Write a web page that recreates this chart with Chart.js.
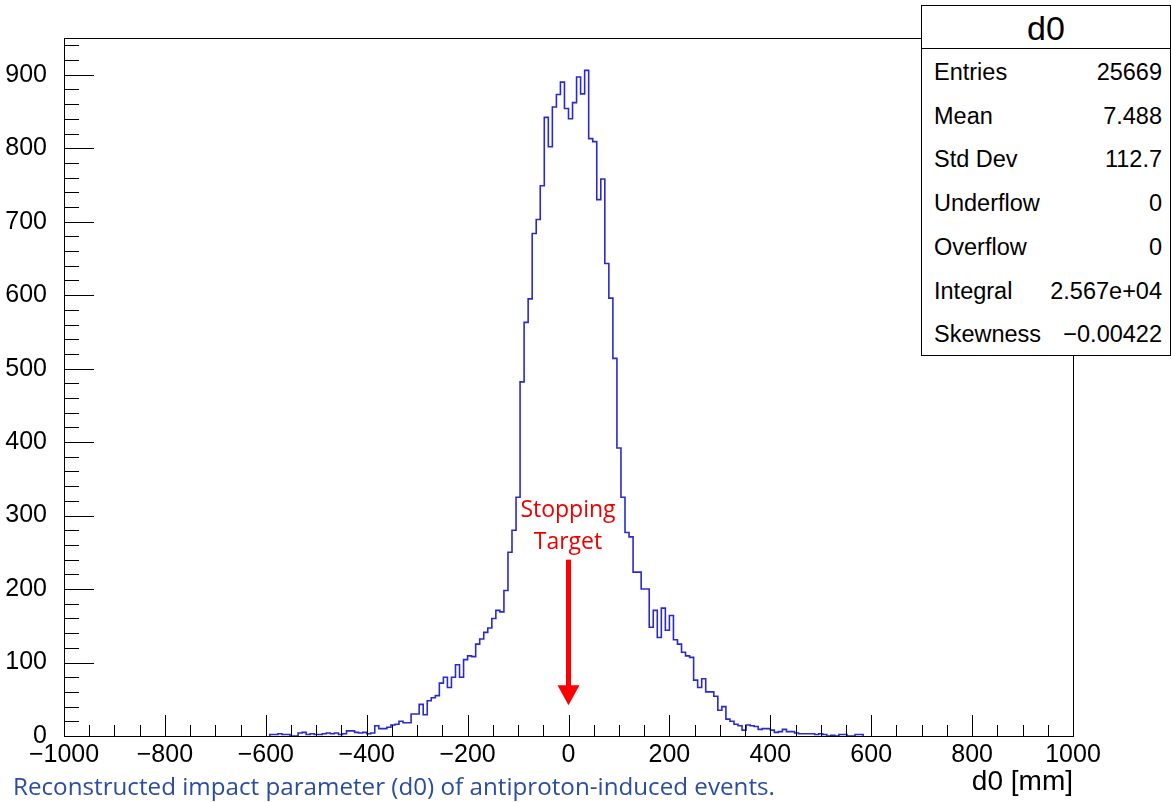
<!DOCTYPE html>
<html>
<head>
<meta charset="utf-8">
<script src="https://cdn.jsdelivr.net/npm/chart.js@4.4.1/dist/chart.umd.min.js"></script>
<style>
  body { margin: 0; background: #fff; }
  #wrap { position: relative; width: 1171px; height: 802px; overflow: hidden; }
  #wrap canvas { position: absolute; left: 0; top: 0; }
  .stats {
    position: absolute; left: 921px; top: 5px; width: 248px; height: 349px;
    border: 1px solid #000; background: #fff;
    font-family: "Liberation Sans", Arial, sans-serif; color: #000;
  }
  .stats .title {
    height: 42px; border-bottom: 1px solid #000;
    font-size: 34px; line-height: 44px; text-align: center;
  }
  .stats .row {
    position: absolute; left: 12px; right: 8px; height: 30px;
    font-size: 23.5px; line-height: 30px;
  }
  .stats .row span:last-child { position: absolute; right: 0; }
  .xtitle {
    position: absolute; right: 98px; top: 765px;
    font-family: "Liberation Sans", Arial, sans-serif; font-size: 28px; color: #000;
  }
  .caption {
    position: absolute; left: 13px; top: 769px; white-space: nowrap;
    font-family: "Open Sans", Lato, sans-serif; font-size: 24.2px; color: #2b4c9f;
  }
  .note {
    position: absolute; left: 468px; top: 492px; width: 200px;
    text-align: center; font-family: "Open Sans", Lato, sans-serif;
    font-size: 23px; line-height: 32px; color: #ee0000;
  }
</style>
</head>
<body>
<div id="wrap">
  <canvas id="histChart" width="1171" height="802"></canvas>
  <div class="stats" id="statsBox"><div class="title">d0</div></div>
  <div class="xtitle">d0 [mm]</div>
  <div class="note">Stopping<br>Target</div>
  <div class="caption">Reconstructed impact parameter (d0) of antiproton-induced events.</div>
</div>
<script>
// 히스토그램 구간 (8 mm 폭, -1000 ~ 1000)
const xMin = -1000;
const xMax = 1000;
const binWidth = 8;
const firstEdge = -592;   // 첫 번째 채워진 구간의 왼쪽 경계

// 구간별 개수 (-592 mm 부터 8 mm 씩)
const counts = [
    2, 2, 3, 2, 2, 0, 0, 4, 5, 2,
    3, 2, 2, 3, 4, 3, 4, 2, 3, 7,
    7, 5, 4, 5, 3, 4, 14, 10, 10, 12,
    15, 16, 20, 18, 18, 30, 30, 43, 29, 48,
    52, 55, 72, 80, 66, 80, 97, 80, 104, 109,
    108, 125, 132, 141, 147, 160, 171, 169, 198, 250,
    280, 325, 482, 563, 595, 684, 703, 749, 842, 802,
    856, 873, 890, 854, 840, 862, 897, 874, 906, 813,
    809, 730, 758, 643, 596, 514, 392, 325, 277, 271,
    223, 223, 200, 200, 148, 171, 134, 174, 144, 164,
    131, 125, 114, 109, 107, 76, 66, 78, 60, 60,
    54, 35, 40, 23, 20, 16, 14, 8, 15, 14,
    13, 9, 10, 10, 8, 5, 6, 9, 6, 6,
    4, 3, 3, 3, 3, 2, 3, 2, 0, 1,
    0, 2, 2, 0, 0, 2, 2
];

// 축 눈금
const xTicks = [-1000, -800, -600, -400, -200, 0, 200, 400, 600, 800, 1000];
const yTicks = [0, 100, 200, 300, 400, 500, 600, 700, 800, 900];
const yMax = 950;

// 통계 박스
const statLabels = ['Entries', 'Mean', 'Std Dev', 'Underflow', 'Overflow', 'Integral', 'Skewness'];
const statValues = ['25669', '7.488', '112.7', '0', '0', '2.567e+04', '\u22120.00422'];

// 화살표 (Stopping Target, x = 0)
const arrowX = 0;
const arrowFrom = 240;
const arrowTo = 42;

const statsBox = document.getElementById('statsBox');
statLabels.forEach((lab, i) => {
    const row = document.createElement('div');
    row.className = 'row';
    row.style.top = (51 + i * 43.7) + 'px';
    row.innerHTML = `<span>${lab}</span><span>${statValues[i]}</span>`;
    statsBox.appendChild(row);
});

// 계단선 포인트: 각 구간 왼쪽 경계에 값 (stepped 'before' → 다음 점까지 유지)
const points = [{ x: firstEdge, y: 0 }];
counts.forEach((c, k) => points.push({ x: firstEdge + k * binWidth, y: c }));
points.push({ x: firstEdge + counts.length * binWidth, y: 0 });

const minus = v => (v < 0 ? '\u2212' + Math.abs(v) : String(v));

// ROOT 스타일 프레임 + 안쪽 눈금 + 화살표
const rootFrame = {
    id: 'rootFrame',
    afterDatasetsDraw(chart) {
        const { ctx, chartArea: a, scales: { x, y } } = chart;
        ctx.save();
        ctx.strokeStyle = '#000';
        ctx.lineWidth = 1;
        ctx.strokeRect(Math.round(a.left) + 0.5, Math.round(a.top) + 0.5,
            Math.round(a.right - a.left), Math.round(a.bottom - a.top));
        ctx.beginPath();
        for (let v = xMin; v <= xMax; v += 50) {
            const px = Math.round(x.getPixelForValue(v)) + 0.5;
            const len = v % 200 === 0 ? 21 : 11;
            ctx.moveTo(px, a.bottom);
            ctx.lineTo(px, a.bottom - len);
        }
        for (let v = 0; v <= yMax; v += 20) {
            const py = Math.round(y.getPixelForValue(v)) + 0.5;
            const len = v % 100 === 0 ? 30 : 15;
            ctx.moveTo(a.left, py);
            ctx.lineTo(a.left + len, py);
        }
        ctx.stroke();

        // 빨간 화살표
        const ax = x.getPixelForValue(arrowX);
        const y0 = y.getPixelForValue(arrowFrom);
        const y1 = y.getPixelForValue(arrowTo);
        ctx.fillStyle = '#ff0000';
        ctx.fillRect(ax - 2.5, y0, 5, (y1 - y0) - 18);
        ctx.beginPath();
        ctx.moveTo(ax - 11, y1 - 20);
        ctx.lineTo(ax + 11, y1 - 20);
        ctx.lineTo(ax, y1);
        ctx.closePath();
        ctx.fill();
        ctx.restore();
    }
};

const tickFont = { family: '"Liberation Sans", Arial, sans-serif', size: 25 };

new Chart(document.getElementById('histChart'), {
    type: 'line',
    data: {
        datasets: [{
            data: points,
            stepped: 'before',
            borderColor: '#2a2acc',
            borderWidth: 1.6,
            pointRadius: 0,
            fill: false
        }]
    },
    options: {
        responsive: false,
        animation: false,
        layout: { padding: { left: 0, top: 38, right: 98, bottom: 0 } },
        plugins: { legend: { display: false }, tooltip: { enabled: false } },
        scales: {
            x: {
                type: 'linear',
                min: xMin,
                max: xMax,
                grid: { display: false },
                border: { display: false },
                afterBuildTicks: s => { s.ticks = xTicks.map(v => ({ value: v })); },
                afterFit: s => { s.height = 66; },
                ticks: {
                    autoSkip: false, maxRotation: 0, padding: -4,
                    color: '#000', font: tickFont,
                    callback: v => minus(v)
                }
            },
            y: {
                min: 0,
                max: yMax,
                grid: { display: false },
                border: { display: false },
                afterBuildTicks: s => { s.ticks = yTicks.map(v => ({ value: v })); },
                afterFit: s => { s.width = 64; },
                ticks: {
                    padding: 9, color: '#000', font: tickFont,
                    callback: v => minus(v)
                }
            }
        }
    },
    plugins: [rootFrame]
});
</script>
</body>
</html>
